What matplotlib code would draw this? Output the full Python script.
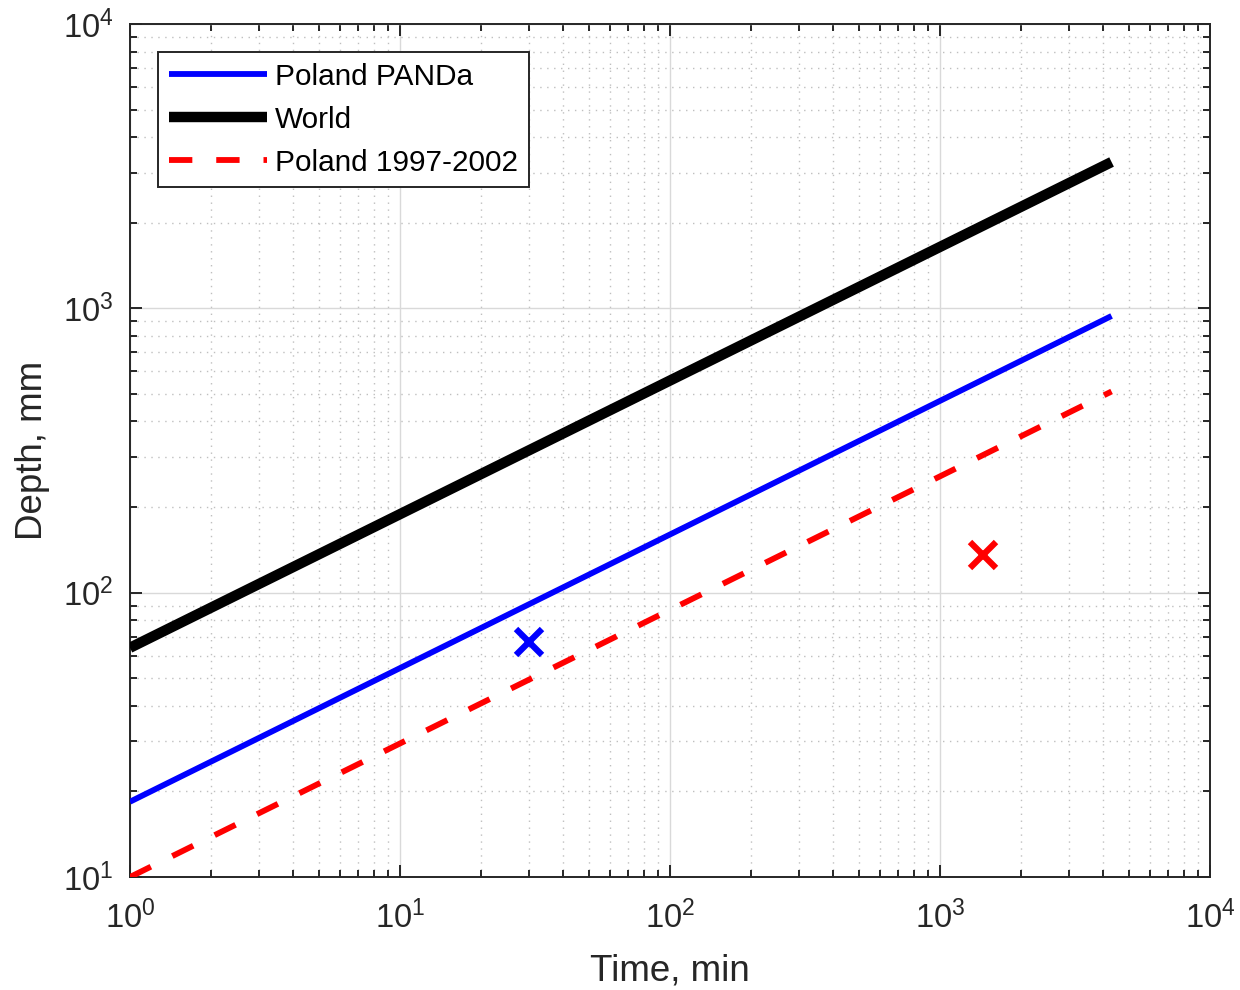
import matplotlib
matplotlib.use("Agg")
import matplotlib.pyplot as plt
from matplotlib.ticker import LogLocator

plt.rcParams['font.family'] = ['Liberation Sans', 'DejaVu Sans']
plt.rcParams['mathtext.fontset'] = 'custom'
plt.rcParams['mathtext.rm'] = 'Liberation Sans'
plt.rcParams['mathtext.it'] = 'Liberation Sans:italic'

# depth-duration curves (straight lines on log-log, endpoints only)
time_span = [1, 4320]
panda_depth = [18.4, 940]
world_depth = [64, 3270]
poland_depth = [10, 510]

# observed events
obs_time = [30, 1440]
obs_depth = [67, 136]
obs_color = ['blue', 'red']

series_labels = ['Poland PANDa', 'World', 'Poland 1997-2002']

dark = (0.15, 0.15, 0.15)

fig = plt.figure(figsize=(12.4, 9.9), dpi=100)
ax = fig.add_axes([0.1048, 0.1141, 0.8710, 0.8617])

ax.plot(time_span, panda_depth, color='blue', lw=4.2, solid_capstyle='butt',
        label=series_labels[0], zorder=3)
ax.plot(time_span, world_depth, color='black', lw=7.5, solid_capstyle='butt',
        label=series_labels[1], zorder=3)
ax.plot(time_span, poland_depth, color='red', lw=4.2, linestyle=(0, (4, 4.1)),
        dash_capstyle='butt', label=series_labels[2], zorder=3)

for t, d, c in zip(obs_time, obs_depth, obs_color):
    ax.plot(t, d, marker='x', color=c, markersize=19, markeredgewidth=4.5,
            linestyle='none', zorder=4)

ax.set_xscale('log')
ax.set_yscale('log')
ax.set_xlim(1, 1e4)
ax.set_ylim(10, 1e4)

ax.xaxis.set_major_locator(LogLocator(base=10, numticks=10))
ax.yaxis.set_major_locator(LogLocator(base=10, numticks=10))
ax.xaxis.set_minor_locator(LogLocator(base=10, subs=range(2, 10), numticks=20))
ax.yaxis.set_minor_locator(LogLocator(base=10, subs=range(2, 10), numticks=20))

ax.grid(True, which='major', color=(0.85, 0.85, 0.85), linewidth=1.0, linestyle='-')
ax.grid(True, which='minor', color=(0.75, 0.75, 0.75), linewidth=1.0, linestyle=(0, (1, 4)))
ax.set_axisbelow(True)

ax.tick_params(which='both', direction='in', top=True, right=True, colors=dark,
               width=1.4, labelsize=23.5, labelcolor=dark)
ax.tick_params(which='major', length=8.5)
ax.tick_params(which='minor', length=5)
ax.tick_params(axis='x', which='major', pad=17)
ax.tick_params(axis='y', which='major', pad=12)
for s in ax.spines.values():
    s.set_color(dark)
    s.set_linewidth(1.4)

ax.set_xlabel('Time, min', fontsize=26.5, color=dark, labelpad=13)
ax.set_ylabel('Depth, mm', fontsize=26.5, color=dark, labelpad=9)

leg = ax.legend(loc='upper left', fontsize=21.4, handlelength=3.3,
                handletextpad=0.28, labelspacing=0.5, borderpad=0.36,
                borderaxespad=0.95, fancybox=False, framealpha=1,
                edgecolor=dark)
leg.get_frame().set_linewidth(1.4)

fig.savefig('out.png', dpi=100)
